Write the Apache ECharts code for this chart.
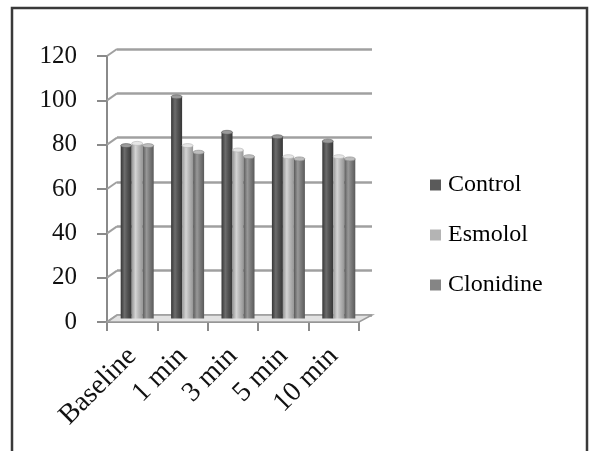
<!DOCTYPE html>
<html>
<head>
<meta charset="utf-8">
<script src="https://cdn.jsdelivr.net/npm/echarts@6/dist/echarts.min.js"></script>
<style>
  html, body { margin: 0; padding: 0; background: #fff; }
  #chart { width: 589px; height: 451px; }
</style>
</head>
<body>
<div id="chart"></div>
<script>
// Time points of the measurement
const categories = ['Baseline', '1 min', '3 min', '5 min', '10 min'];
// Group values
const control   = [78, 100, 84, 82, 80];
const esmolol   = [79, 78, 76, 73, 73];
const clonidine = [78, 75, 73, 72, 72];
// Value axis ticks
const yTicks = [0, 20, 40, 60, 80, 100, 120];

const SERIF = '"Liberation Serif", "Times New Roman", serif';
// depth offset of the back wall relative to the front plane
const DX = 10, DY = 7;
const BAR_W = 11;

function cyl(edge, mid, light) {
  return new echarts.graphic.LinearGradient(0, 0, 1, 0, [
    { offset: 0, color: edge },
    { offset: 0.35, color: light },
    { offset: 0.6, color: mid },
    { offset: 1, color: edge }
  ]);
}

const styles = {
  Control:   { fill: cyl('#363636', '#545454', '#6c6c6c'), flat: '#5a5a5a', cap: '#9a9a9a' },
  Esmolol:   { fill: cyl('#969696', '#bababa', '#d4d4d4'), flat: '#b4b4b4', cap: '#e6e6e6' },
  Clonidine: { fill: cyl('#5a5a5a', '#7e7e7e', '#989898'), flat: '#858585', cap: '#bdbdbd' }
};

const groups = [['Control', control], ['Esmolol', esmolol], ['Clonidine', clonidine]];

const chart = echarts.init(document.getElementById('chart'));

const grids = [
  { left: 107, top: 56, width: 252, height: 266 },            // front plane: axes, ticks, labels
  { left: 107 + DX, top: 56 - DY, width: 255, height: 266 },  // back wall: gridlines
  { left: 107 + DX / 2, top: 56 - DY / 2, width: 252, height: 266 } // bars, mid depth
];

// cylinder-like column with a rounded top
function columnRenderer(k) {
  const st = styles[groups[k][0]];
  return function (params, api) {
    const idx = api.value(0);
    const top = api.coord([idx, api.value(1)]);
    const base = api.coord([idx, 0]);
    const cx = top[0] + (k - 1) * BAR_W;
    const x = cx - BAR_W / 2;
    return {
      type: 'group',
      children: [
        {
          type: 'rect',
          shape: { x: x, y: top[1], width: BAR_W, height: base[1] - top[1] },
          style: { fill: st.fill }
        },
        {
          type: 'ellipse',
          shape: { cx: cx, cy: top[1], rx: BAR_W / 2, ry: 2 },
          style: { fill: st.cap, stroke: st.flat, lineWidth: 0.6 }
        }
      ]
    };
  };
}

const option = {
  animation: false,
  backgroundColor: '#fff',
  graphic: [{
    type: 'rect',
    shape: { x: 12, y: 8, width: 575, height: 460 },
    style: { fill: null, stroke: '#3a3a3a', lineWidth: 2.5 },
    z: -10, silent: true
  }],
  legend: {
    orient: 'vertical',
    left: 425,
    top: 168,
    itemWidth: 11,
    itemHeight: 11,
    itemGap: 26,
    icon: 'rect',
    textStyle: { fontFamily: SERIF, fontSize: 24, color: '#000', padding: [0, 0, 0, 2] },
    data: Object.keys(styles).map(n => ({ name: n, itemStyle: { color: styles[n].flat } }))
  },
  grid: grids,
  xAxis: [
    {
      gridIndex: 0, type: 'category', data: categories,
      axisLine: { show: true, lineStyle: { color: '#8a8a8a', width: 2 } },
      axisTick: { show: true, length: 9, lineStyle: { color: '#8a8a8a', width: 2 } },
      axisLabel: { rotate: 45, interval: 0, hideOverlap: false, margin: 30,
                   fontFamily: SERIF, fontSize: 28, color: '#111' },
      splitLine: { show: false }
    },
    { gridIndex: 1, type: 'category', data: categories, show: false },
    { gridIndex: 2, type: 'category', data: categories, show: false }
  ],
  yAxis: [
    {
      gridIndex: 0, type: 'value', min: 0, max: 120, interval: 20,
      axisLine: { show: true, lineStyle: { color: '#8a8a8a', width: 2 } },
      axisTick: { show: true, length: 10, lineStyle: { color: '#8a8a8a', width: 2 } },
      axisLabel: { margin: 30, fontFamily: SERIF, fontSize: 25, color: '#111' },
      splitLine: { show: false }
    },
    {
      gridIndex: 1, type: 'value', min: 0, max: 120, interval: 20,
      axisLine: { show: false }, axisTick: { show: false }, axisLabel: { show: false },
      splitLine: { show: true, lineStyle: { color: '#a0a0a0', width: 2.5 } }
    },
    { gridIndex: 2, type: 'value', min: 0, max: 120, interval: 20, show: false,
      splitLine: { show: false } }
  ],
  series: [
    // floor slab
    {
      type: 'custom', xAxisIndex: 0, yAxisIndex: 0, silent: true, z: 1,
      data: [[0, 0]],
      renderItem: function (params, api) {
        const cs = params.coordSys;
        const y0 = api.coord([0, 0])[1];
        const x0 = cs.x, x1 = cs.x + cs.width;
        return {
          type: 'polygon',
          shape: { points: [[x0, y0], [x1, y0], [x1 + DX + 3, y0 - DY], [x0 + DX, y0 - DY]] },
          style: { fill: '#e2e2e2', stroke: '#9a9a9a', lineWidth: 1.5 }
        };
      }
    },
    // side-wall connectors between front ticks and back gridlines
    {
      type: 'custom', xAxisIndex: 0, yAxisIndex: 0, silent: true, z: 1,
      data: yTicks.map(v => [0, v]),
      renderItem: function (params, api) {
        const cs = params.coordSys;
        const y = api.coord([0, api.value(1)])[1];
        return {
          type: 'line',
          shape: { x1: cs.x, y1: y, x2: cs.x + DX, y2: y - DY },
          style: { stroke: '#a0a0a0', lineWidth: 2 }
        };
      }
    },
    ...groups.map(([name, vals], k) => ({
      name: name, type: 'custom', xAxisIndex: 2, yAxisIndex: 2, z: 3,
      data: vals.map((v, i) => [i, v]),
      itemStyle: { color: styles[name].flat },
      renderItem: columnRenderer(k)
    }))
  ]
};

chart.setOption(option);
</script>
</body>
</html>
